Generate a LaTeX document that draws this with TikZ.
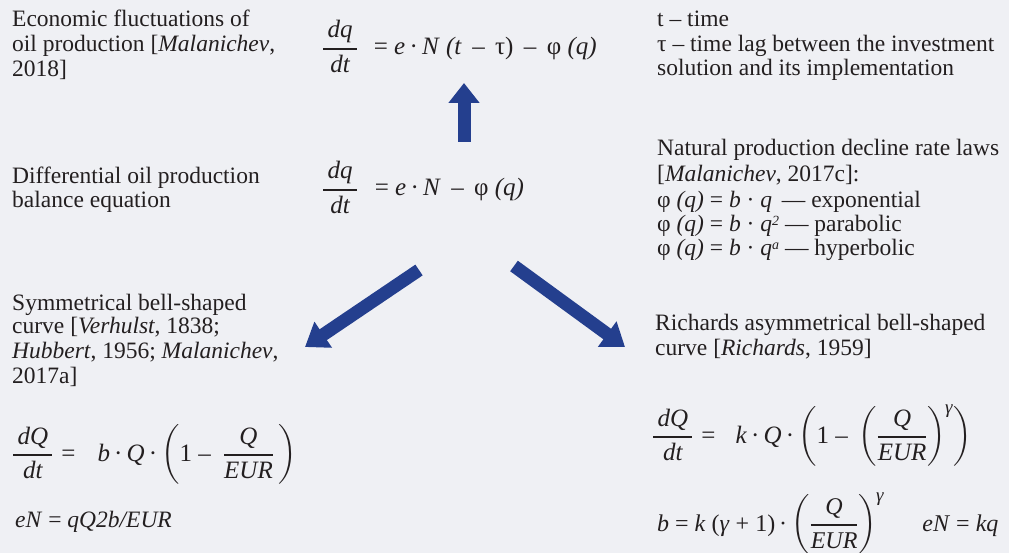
\documentclass[tikz,border=0pt]{standalone}
\usepackage{amsmath}
\usepackage{fontspec}
\setmainfont{Liberation Serif}
\usetikzlibrary{arrows.meta}
\definecolor{bg}{HTML}{EFF0F4}
\definecolor{arr}{HTML}{243F8E}
\definecolor{ink}{HTML}{231F20}
\newcommand\fr[2]{\genfrac{}{}{1.8pt}{0}{\,#1\,}{#2}}
\newcommand\frn[2]{\genfrac{}{}{1.8pt}{0}{#1}{#2}}
\newcommand\ii[1]{\textit{#1}}
\newcommand\dt{\,·\,}
\newcommand\gm{\text{\hspace{2pt}\ii{\fontsize{19}{19}\selectfont γ}}}
\newcommand\sups[1]{\raisebox{6.5pt}{\fontsize{14}{14}\selectfont\ii{#1}}}
\begin{document}
\begin{tikzpicture}[x=1pt,y=-1pt,
  txt/.style={anchor=base west, inner sep=0pt, font=\fontsize{23.5}{25}\selectfont, text=ink},
  eqn/.style={anchor=base west, inner sep=0pt, font=\fontsize{25}{30}\selectfont, text=ink},
  eqs/.style={anchor=base west, inner sep=0pt, font=\fontsize{24}{30}\selectfont, text=ink},
  bigarrow/.style={draw=arr, line width=13pt, -{Triangle[length=22pt,width=30pt]}}]
\fill[bg] (0,0) rectangle (1009,553);
\useasboundingbox (0,0) rectangle (1009,553);
% top left
\node[txt] (tl1) at (12,27) {Economic fluctuations of};
\node[txt] (tl2) at (12,52) {oil production [\ii{Malanichev},};
\node[txt] (tl3) at (12,77) {2018]};
% top equation
\node[eqn] (eq1) at (322,55) {$\fr{\ii{dq}}{\ii{dt}}$\hspace{16pt}= \ii{e}\dt\ii{N} \ii{(t} \,–\, τ) \,–\, φ \ii{(q)}};
% top right
\node[txt] (tr1) at (657,27) {t – time};
\node[txt] (tr2) at (657,52) {τ – time lag between the investment};
\node[txt] (tr3) at (657,76) {solution and its implementation};
% middle left
\node[txt] (ml1) at (12,184) {Differential oil production};
\node[txt] (ml2) at (12,208) {balance equation};
% middle equation
\node[eqn] (eq2) at (322,196) {$\fr{\ii{dq}}{\ii{dt}}$\hspace{17pt}= \ii{e}\dt\ii{N} \,–\, φ \ii{(q)}};
% middle right
\node[txt] (mr1) at (657,156) {Natural production decline rate laws};
\node[txt] (mr2) at (657,182) {[\ii{Malanichev}, 2017c]:};
\node[txt] (mr3) at (657,208) {φ \ii{(q)} = \ii{b} · \ii{q}\, — exponential};
\node[txt] (mr4) at (657,232) {φ \ii{(q)} = \ii{b} · \ii{q}\sups{2} — parabolic};
\node[txt] (mr5) at (657,256) {φ \ii{(q)} = \ii{b} · \ii{q}\sups{a} — hyperbolic};
% bottom left
\node[txt] (bl1) at (12,310) {Symmetrical bell-shaped};
\node[txt] (bl2) at (12,334) {curve [\ii{Verhulst}, 1838;};
\node[txt] (bl3) at (12,358) {\ii{Hubbert}, 1956; \ii{Malanichev},};
\node[txt] (bl4) at (12,383) {2017a]};
\node[eqn] (eq3) at (12,461) {$\fr{\ii{dQ}}{\ii{dt}}$\hspace{8pt}=\hspace{22pt}\ii{b}\dt\ii{Q}\dt$\left(\text{1 –\hspace{12pt}}\frn{\ii{Q}}{\ii{EUR}}\,\right)$};
\node[txt] (eq3b) at (15,527) {\ii{eN} = \ii{qQ2b/EUR}};
% bottom right
\node[txt] (br1) at (655,330) {Richards asymmetrical bell-shaped};
\node[txt] (br2) at (655,355) {curve [\ii{Richards}, 1959]};
\node[eqn] (eq4) at (652,443) {$\fr{\ii{dQ}}{\ii{dt}}$\hspace{8pt}=\hspace{20pt}\ii{k}\dt\ii{Q}\dt$\left(\text{1 – }\left(\frn{\ii{Q}}{\ii{EUR}}\right)^{\!\gm}\right)$};
\node[eqs] (eq4b) at (657,531) {\ii{b} = \ii{k} (\ii{γ} + 1)\dt$\left(\frn{\ii{Q}}{\ii{EUR}}\right)^{\!\gm}$\hspace{38pt}\ii{eN} = \ii{kq}};
% arrows
\coordinate (aup0) at (464,142);
\coordinate (aup1) at (464,83);
\coordinate (al0) at (419,270);
\coordinate (al1) at (305,347);
\coordinate (ar0) at (514,266);
\coordinate (ar1) at (625,347);
\draw[bigarrow,-{Triangle[length=20pt,width=30pt]}] (aup0) -- (aup1);
\draw[bigarrow] (al0) -- (al1);
\draw[bigarrow] (ar0) -- (ar1);
\end{tikzpicture}
\end{document}
